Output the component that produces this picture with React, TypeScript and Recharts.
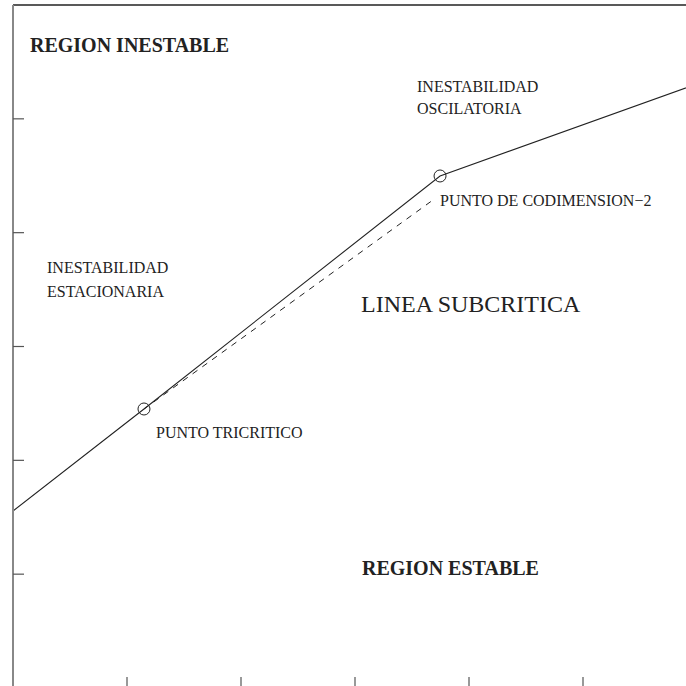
import React from "react";
import { LineChart, Line, XAxis, YAxis, ReferenceDot, ReferenceLine, Customized } from "recharts";

// transition line (solid) and subcritical branch (dashed)
const solidLine = [
  { x: 0, y: 1.555 },
  { x: 1.149, y: 2.451 },
  { x: 3.746, y: 4.498 },
  { x: 6, y: 5.306 },
];
const dashedLine = [
  { x: 1.149, y: 2.451 },
  { x: 3.684, y: 4.287 },
];
const specialPoints = [
  { x: 1.149, y: 2.451 },
  { x: 3.746, y: 4.498 },
];
const xTicks = [1, 2, 3, 4, 5];
const yTicks = [1, 2, 3, 4, 5];

const serif = "'Liberation Serif', 'Times New Roman', serif";

const Labels = () => (
  <g fontFamily={serif} fill="#222">
    <text x={30} y={52} fontSize={20} fontWeight="bold">REGION INESTABLE</text>
    <text x={417} y={92} fontSize={16}>INESTABILIDAD</text>
    <text x={417} y={114} fontSize={16}>OSCILATORIA</text>
    <text x={440} y={206} fontSize={16}>PUNTO DE CODIMENSION−2</text>
    <text x={47} y={273} fontSize={16}>INESTABILIDAD</text>
    <text x={47} y={297} fontSize={16}>ESTACIONARIA</text>
    <text x={361} y={312} fontSize={24}>LINEA SUBCRITICA</text>
    <text x={156} y={438} fontSize={16}>PUNTO TRICRITICO</text>
    <text x={362} y={575} fontSize={20} fontWeight="bold">REGION ESTABLE</text>
  </g>
);

const App = () => {
  return (
    <div
      style={{
        position: "fixed",
        top: 0,
        left: 0,
        width: 686,
        height: 686,
        overflow: "hidden",
        background: "#fff",
      }}
    >
      <LineChart width={700} height={700} margin={{ top: 5, right: 3, left: 13, bottom: 12 }}>
        <XAxis
          type="number"
          dataKey="x"
          domain={[0, 6]}
          ticks={xTicks}
          mirror
          tickSize={11}
          axisLine={false}
          tickLine={{ stroke: "#777", strokeWidth: 1.5 }}
          tickFormatter={() => ""}
        />
        <YAxis
          type="number"
          dataKey="y"
          domain={[0, 6]}
          ticks={yTicks}
          mirror
          tickSize={11}
          axisLine={{ stroke: "#888", strokeWidth: 2 }}
          tickLine={{ stroke: "#555", strokeWidth: 1.2 }}
          tickFormatter={() => ""}
        />
        <ReferenceLine y={6} stroke="#222" strokeWidth={1.5} />
        <Line
          data={solidLine}
          dataKey="y"
          stroke="#222"
          strokeWidth={1.1}
          dot={false}
          isAnimationActive={false}
        />
        <Line
          data={dashedLine}
          dataKey="y"
          stroke="#222"
          strokeWidth={1}
          strokeDasharray="6 6"
          dot={false}
          isAnimationActive={false}
        />
        {specialPoints.map((p, i) => (
          <ReferenceDot key={i} x={p.x} y={p.y} r={6} fill="none" stroke="#222" strokeWidth={1} />
        ))}
        <Customized component={Labels} />
      </LineChart>
    </div>
  );
};

export default App;
